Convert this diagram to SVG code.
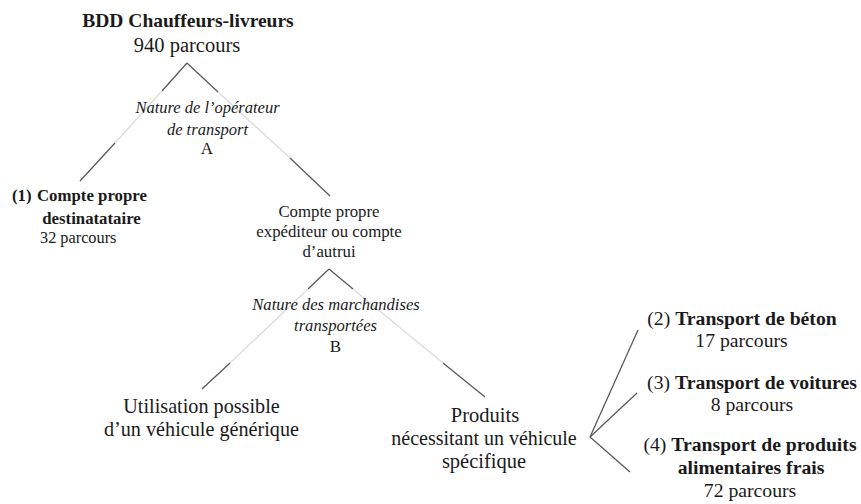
<svg xmlns="http://www.w3.org/2000/svg" width="861" height="504" viewBox="0 0 861 504">
<style>
text{font-family:"Liberation Serif","Times New Roman",serif;fill:#1a1a1a;text-anchor:middle}
.b{font-weight:bold}
.i{font-style:italic}
.s{text-anchor:start}
.dk{stroke:#5a5a5a;stroke-width:1.3;fill:none}
.lt{stroke:#dcdcdc;stroke-width:1.3;fill:none}
</style>
<rect width="861" height="504" fill="#fff"/>
<g id="connectors">
<line class="dk" x1="187" y1="63" x2="162" y2="91"/>
<line class="lt" x1="162" y1="91" x2="115" y2="143"/>
<line class="dk" x1="115" y1="143" x2="80" y2="181"/>
<line class="dk" x1="187" y1="63" x2="218" y2="92"/>
<line class="lt" x1="218" y1="92" x2="290" y2="158"/>
<line class="dk" x1="290" y1="158" x2="330" y2="196"/>
<line class="dk" x1="329" y1="269" x2="308" y2="289"/>
<line class="lt" x1="308" y1="289" x2="230" y2="363"/>
<line class="dk" x1="230" y1="363" x2="202" y2="389"/>
<line class="dk" x1="329" y1="269" x2="353" y2="289"/>
<line class="lt" x1="353" y1="289" x2="443" y2="363"/>
<line class="dk" x1="443" y1="363" x2="485" y2="397"/>
<line class="dk" x1="590" y1="437" x2="638" y2="330"/>
<line class="dk" x1="590" y1="437" x2="637" y2="393"/>
<line class="dk" x1="590" y1="437" x2="630" y2="472"/>
</g>
<g id="root">
<text class="b" x="188" y="27" font-size="19.5">BDD Chauffeurs-livreurs</text>
<text x="187" y="52" font-size="20.5">940 parcours</text>
</g>
<g id="critA">
<text class="i" x="207.5" y="113" font-size="16.5">Nature de l’opérateur</text>
<text class="i" x="207.5" y="135" font-size="16.5">de transport</text>
<text x="207" y="154" font-size="17">A</text>
</g>
<g id="n1">
<text class="b s" x="12" y="201" font-size="16.8">(1)</text>
<text class="b s" x="37" y="201" font-size="16.8">Compte propre</text>
<text class="b" x="91.5" y="224" font-size="16.8">destinatataire</text>
<text class="s" x="40" y="243" font-size="16.3">32 parcours</text>
</g>
<g id="nCompte">
<text x="329" y="217" font-size="16.8">Compte propre</text>
<text x="329" y="237" font-size="16.8">expéditeur ou compte</text>
<text x="329" y="257" font-size="16.8">d’autrui</text>
</g>
<g id="critB">
<text class="i" x="336" y="310" font-size="16.6">Nature des marchandises</text>
<text class="i" x="335.5" y="331" font-size="16.6">transportées</text>
<text x="335.5" y="352" font-size="17">B</text>
</g>
<g id="nGenerique">
<text x="201.5" y="413" font-size="20.2">Utilisation possible</text>
<text x="201.5" y="436" font-size="20.2">d’un véhicule générique</text>
</g>
<g id="nSpecifique">
<text x="485" y="422" font-size="20.5">Produits</text>
<text x="484" y="445" font-size="20">nécessitant un véhicule</text>
<text x="484" y="468" font-size="20.5">spécifique</text>
</g>
<g id="n2">
<text x="742" y="325" font-size="19.7"><tspan>(2) </tspan><tspan class="b">Transport de béton</tspan></text>
<text x="741.5" y="347" font-size="19.7">17 parcours</text>
</g>
<g id="n3">
<text x="752" y="389" font-size="19.7"><tspan>(3) </tspan><tspan class="b">Transport de voitures</tspan></text>
<text x="752" y="411" font-size="19.7">8 parcours</text>
</g>
<g id="n4">
<text x="750" y="451" font-size="19.7"><tspan>(4) </tspan><tspan class="b">Transport de produits</tspan></text>
<text class="b" x="751" y="474" font-size="19.7">alimentaires frais</text>
<text x="750" y="497" font-size="19.7">72 parcours</text>
</g>
</svg>
